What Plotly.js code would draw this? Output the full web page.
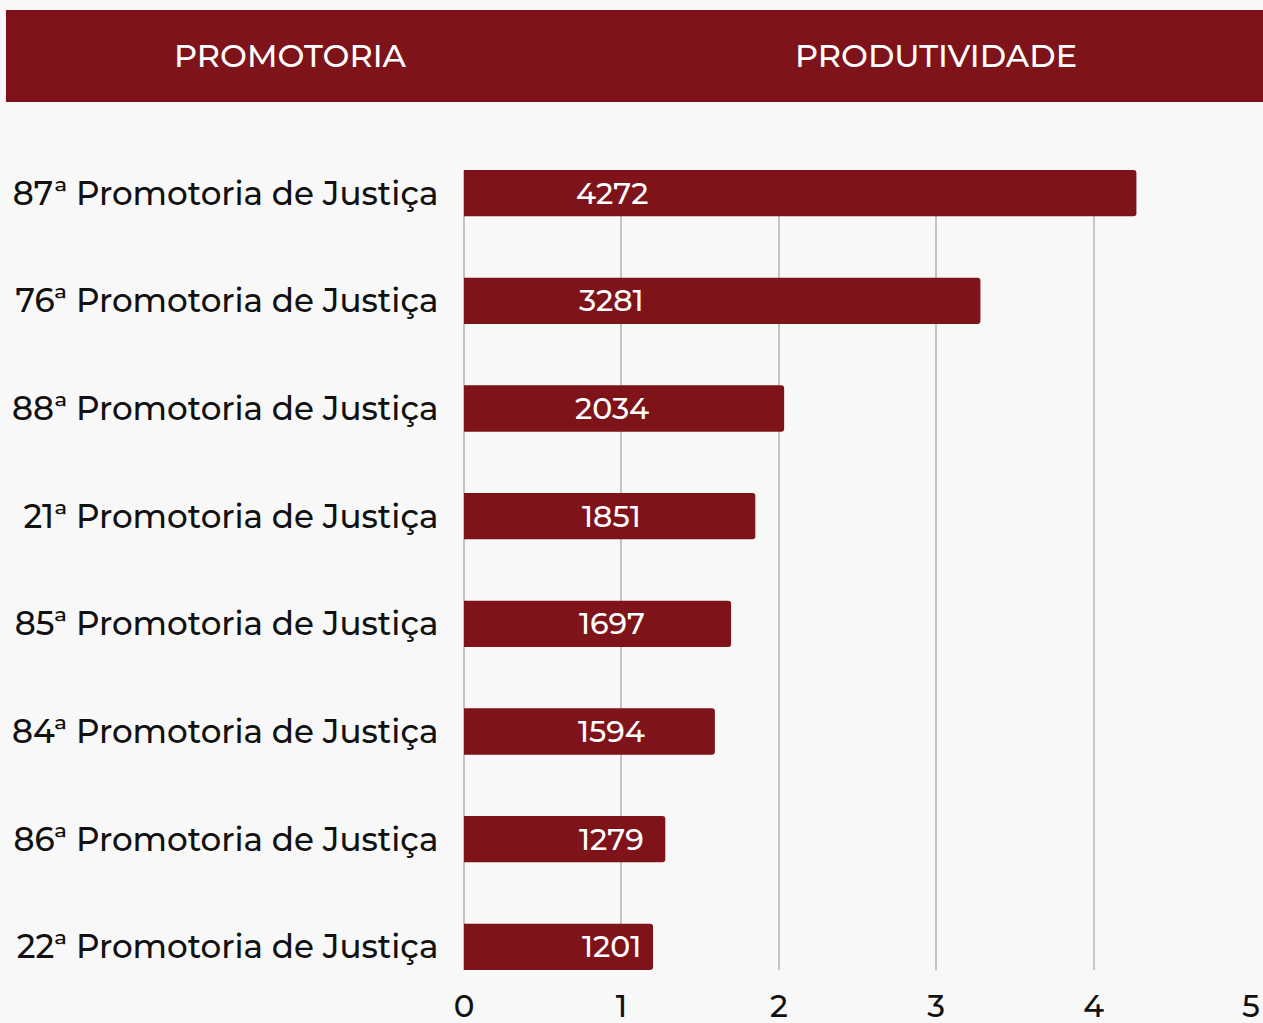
<!DOCTYPE html>
<html>
<head>
<meta charset="utf-8">
<script src="https://cdn.plot.ly/plotly-3.0.1.min.js"></script>
<style>
html,body{margin:0;padding:0;background:#f8f8f8;}
#chart{width:1263px;height:1023px;}
</style>
</head>
<body>
<div id="chart"></div>
<script>
const promotorias = [
  "87ª Promotoria de Justiça",
  "76ª Promotoria de Justiça",
  "88ª Promotoria de Justiça",
  "21ª Promotoria de Justiça",
  "85ª Promotoria de Justiça",
  "84ª Promotoria de Justiça",
  "86ª Promotoria de Justiça",
  "22ª Promotoria de Justiça"
];
const produtividade = [4272, 3281, 2034, 1851, 1697, 1594, 1279, 1201];
const xTicks = [0, 1, 2, 3, 4, 5];
const headerLabels = ["PROMOTORIA", "PRODUTIVIDADE"];

const RED = "#7e131a";
const FONT = "Montserrat, 'Noto Sans', 'Open Sans', sans-serif";

const trace = {
  type: "bar",
  orientation: "h",
  y: promotorias,
  x: produtividade.map(v => v / 1000),
  width: 0.43,
  marker: {color: RED, cornerradius: 3},
  hoverinfo: "none"
};

const annotations = produtividade.map((v, i) => ({
  x: 0.94, y: promotorias[i], xref: "x", yref: "y",
  text: String(v), showarrow: false,
  font: {family: FONT, size: 30, weight: 500, color: "#ffffff"},
  xanchor: "center", yanchor: "middle"
}));

annotations.push({
  x: -0.221, y: 1.1425, xref: "paper", yref: "paper",
  text: headerLabels[0], showarrow: false,
  font: {family: FONT, size: 32, weight: 500, color: "#ffffff"},
  xanchor: "center", yanchor: "middle"
});
annotations.push({
  x: 0.5997, y: 1.1425, xref: "paper", yref: "paper",
  text: headerLabels[1], showarrow: false,
  font: {family: FONT, size: 32, weight: 500, color: "#ffffff"},
  xanchor: "center", yanchor: "middle"
});

const layout = {
  width: 1263, height: 1023,
  margin: {l: 464, r: 12, t: 170, b: 53, pad: 0},
  paper_bgcolor: "#f8f8f8",
  plot_bgcolor: "#f8f8f8",
  showlegend: false,
  xaxis: {
    range: [0, 5],
    tickvals: xTicks,
    ticktext: xTicks.map(String),
    showgrid: true,
    gridcolor: "#c4c4c4",
    gridwidth: 2,
    zeroline: true,
    zerolinecolor: "#c4c4c4",
    zerolinewidth: 2,
    showline: false,
    ticks: "outside",
    ticklen: 9,
    tickcolor: "rgba(0,0,0,0)",
    tickfont: {family: FONT, size: 31, weight: 500, color: "#111111"},
    fixedrange: true
  },
  yaxis: {
    type: "category",
    categoryorder: "array",
    categoryarray: promotorias,
    range: [7.215, -0.215],
    showgrid: false,
    zeroline: false,
    showline: false,
    ticks: "outside",
    ticklen: 18,
    tickcolor: "rgba(0,0,0,0)",
    tickfont: {family: FONT, size: 32.6, weight: 500, color: "#111111"},
    fixedrange: true
  },
  shapes: [{
    type: "rect", xref: "paper", yref: "paper",
    x0: -0.582, x1: 1.02, y0: 1.085, y1: 1.2,
    fillcolor: RED, line: {width: 0}, layer: "above"
  }],
  annotations: annotations
};

Plotly.newPlot("chart", [trace], layout, {displayModeBar: false, staticPlot: true});
</script>
</body>
</html>
